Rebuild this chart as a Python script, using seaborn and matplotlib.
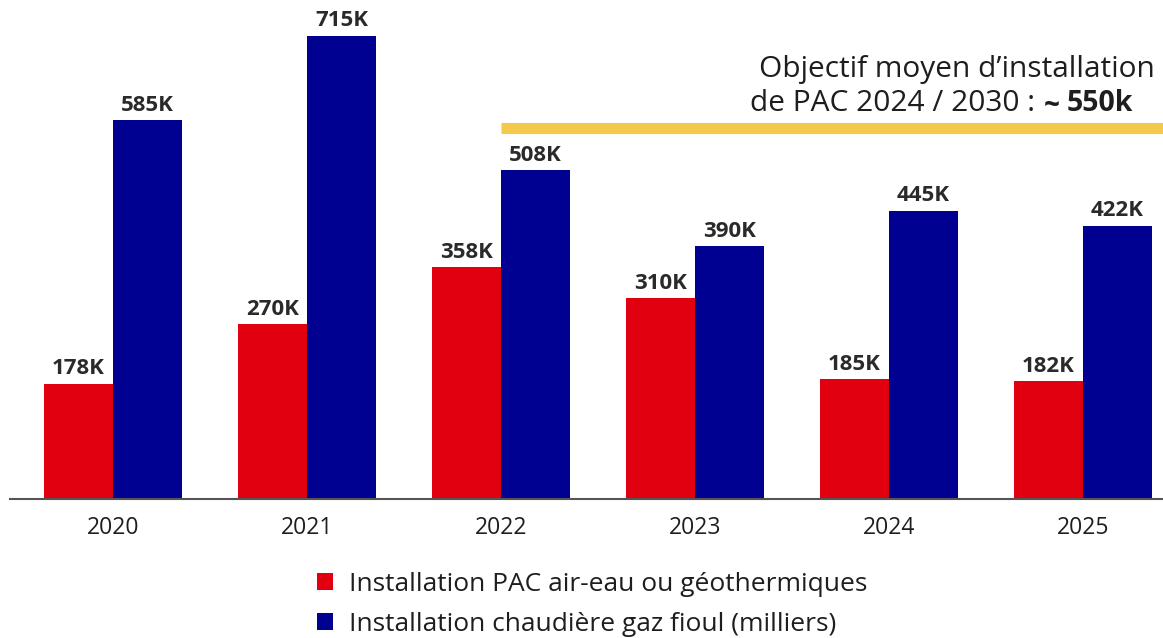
import matplotlib
matplotlib.use("Agg")
import matplotlib.pyplot as plt
import seaborn as sns
import pandas as pd

# Data (milliers)
years = ["2020", "2021", "2022", "2023", "2024", "2025"]
pac = [178, 270, 358, 310, 185, 182]
chaudiere = [585, 715, 508, 390, 445, 422]
series_names = ["Installation PAC air-eau ou géothermiques",
                "Installation chaudière gaz fioul (milliers)"]
objectif = 573  # yellow line as drawn (~550k target)

df = pd.DataFrame({
    "year": years * 2,
    "serie": [series_names[0]] * len(years) + [series_names[1]] * len(years),
    "value": pac + chaudiere,
})

sns.set_theme(style="white")
plt.rcParams['font.family'] = ['Open Sans', 'DejaVu Sans']

fig = plt.figure(figsize=(11.63, 6.38), dpi=100)
ax = fig.add_axes([10 / 1163, 0.2179, 1153 / 1163, 0.7821])

sns.barplot(data=df, x="year", y="value", hue="serie",
            palette=["#E1000F", "#000091"], width=0.71, linewidth=0,
            saturation=1, ax=ax, legend=True)

for cont in ax.containers:
    ax.bar_label(cont, labels=[f"{int(v)}K" for v in cont.datavalues],
                 padding=3, fontsize=16, fontweight="bold", color="#2a2a2a")

ax.set_xlim(-0.531, 5.413)
ax.set_ylim(0, 770)
ax.set_xlabel("")
ax.set_ylabel("")
ax.set_yticks([])
for s in ["top", "right", "left"]:
    ax.spines[s].set_visible(False)
ax.spines["bottom"].set_color("#555555")
ax.spines["bottom"].set_linewidth(1.5)
ax.tick_params(axis="x", length=0, labelsize=16.5, colors="#1e1e1e", pad=12)

# objective line
ax.plot([2, 5.413], [objectif, objectif], color="#F3C84B", lw=8,
        solid_capstyle="butt", clip_on=False)
ax.text(5.37, 662, "Objectif moyen d\u2019installation", ha="right", va="center",
        fontsize=21.5, color="#1e1e1e")
ax.text(4.753, 610, "de PAC 2024 / 2030 :", ha="right", va="center",
        fontsize=21.5, color="#1e1e1e")
ax.text(4.80, 606, "~", ha="left", va="center",
        fontsize=20, color="#1e1e1e", fontweight="bold")
ax.text(4.918, 610, "550k", ha="left", va="center",
        fontsize=20.5, color="#1e1e1e", fontweight="bold")

handles, labels = ax.get_legend_handles_labels()
ax.legend(handles, labels, loc="upper left", bbox_to_anchor=(0.257, -0.125),
          frameon=False, fontsize=19, handlelength=0.6, handleheight=0.6,
          handletextpad=0.6, labelspacing=0.56, labelcolor="#1e1e1e",
          borderaxespad=0)

fig.savefig("out.png", dpi=100)
